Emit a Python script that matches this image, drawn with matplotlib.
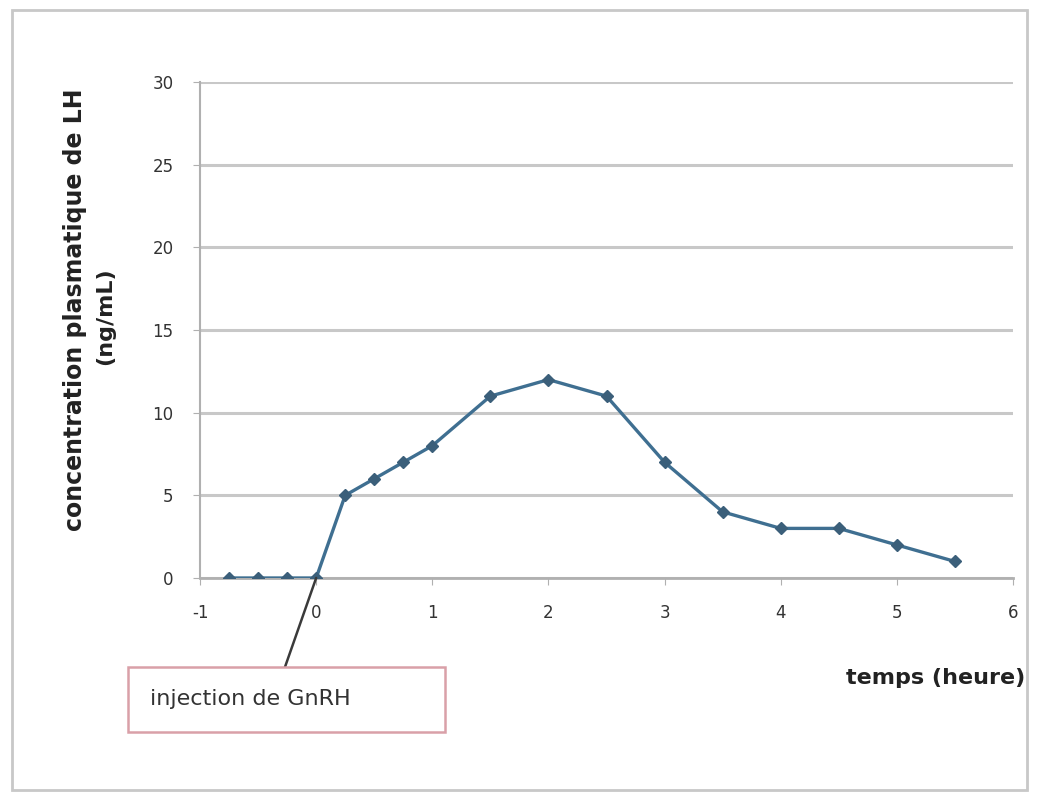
import matplotlib
matplotlib.use("Agg")
import matplotlib.pyplot as plt
from matplotlib.patches import Rectangle

# Data
temps = [-0.75, -0.5, -0.25, 0, 0.25, 0.5, 0.75, 1, 1.5, 2, 2.5, 3, 3.5, 4, 4.5, 5, 5.5]
lh = [0, 0, 0, 0, 5, 6, 7, 8, 11, 12, 11, 7, 4, 3, 3, 2, 1]
x_ticks = [-1, 0, 1, 2, 3, 4, 5, 6]
y_ticks = [0, 5, 10, 15, 20, 25, 30]
y_label_1 = "concentration plasmatique de LH"
y_label_2 = "(ng/mL)"
x_label = "temps (heure)"
annot_text = "injection de GnRH"

W, H = 1039, 800
fig = plt.figure(figsize=(W / 100, H / 100), dpi=100)
fig.patch.set_facecolor("white")
# outer frame
fig.add_artist(Rectangle((0.012, 0.012), 0.976, 0.976, transform=fig.transFigure,
                         fill=False, edgecolor="#c8c8c8", linewidth=2))

ax = fig.add_axes([0.1925, 0.2775, 0.7825, 0.62])
ax.set_xlim(-1, 6)
ax.set_ylim(0, 30)
ax.set_xticks(x_ticks)
ax.set_yticks(y_ticks)
ax.set_xticklabels([str(t) for t in x_ticks])
ax.set_yticklabels([str(t) for t in y_ticks])
for s in ["top", "right"]:
    ax.spines[s].set_visible(False)
ax.spines["left"].set_color("#b0b0b0")
ax.spines["bottom"].set_color("#b0b0b0")
ax.spines["left"].set_linewidth(1.5)
ax.spines["bottom"].set_linewidth(2)
ax.yaxis.grid(True, color="#c8c8c8", linewidth=2.2)
ax.set_axisbelow(True)
ax.tick_params(axis="both", colors="#b0b0b0", labelcolor="#333333", labelsize=12, length=5)
ax.tick_params(axis="x", pad=14, direction="out")
ax.tick_params(axis="y", pad=14)

ax.plot(temps, lh, color="#3f6f91", linewidth=2.4, marker="D", markersize=6.5,
        markerfacecolor="#3b5f7a", markeredgecolor="#3b5f7a", zorder=3)

# y label (two lines)
fig.text(75 / W, 1 - 310 / H, y_label_1, rotation=90, fontsize=17, fontweight="bold",
         color="#222222", ha="center", va="center")
fig.text(105 / W, 1 - 316 / H, y_label_2, rotation=90, fontsize=16, fontweight="bold",
         color="#222222", ha="center", va="center")

fig.text(936 / W, 1 - 678 / H, x_label, fontsize=16, fontweight="bold", color="#222222",
         ha="center", va="center")

# annotation box
fig.add_artist(Rectangle((128 / W, 1 - 732 / H), 317 / W, 65 / H, transform=fig.transFigure,
                         fill=True, facecolor="white", edgecolor="#d9a0a8", linewidth=1.8))
fig.text(150 / W, 1 - 699 / H, annot_text, fontsize=16, color="#333333",
         ha="left", va="center")
ax.annotate("", xy=(0.0, 0.0), xycoords="data",
            xytext=(285 / W, 1 - 667 / H), textcoords="figure fraction",
            arrowprops=dict(arrowstyle="-", color="#3a3a3a", linewidth=1.8,
                            shrinkA=0, shrinkB=0),
            annotation_clip=False)

fig.savefig("out.png", dpi=100, facecolor="white")
